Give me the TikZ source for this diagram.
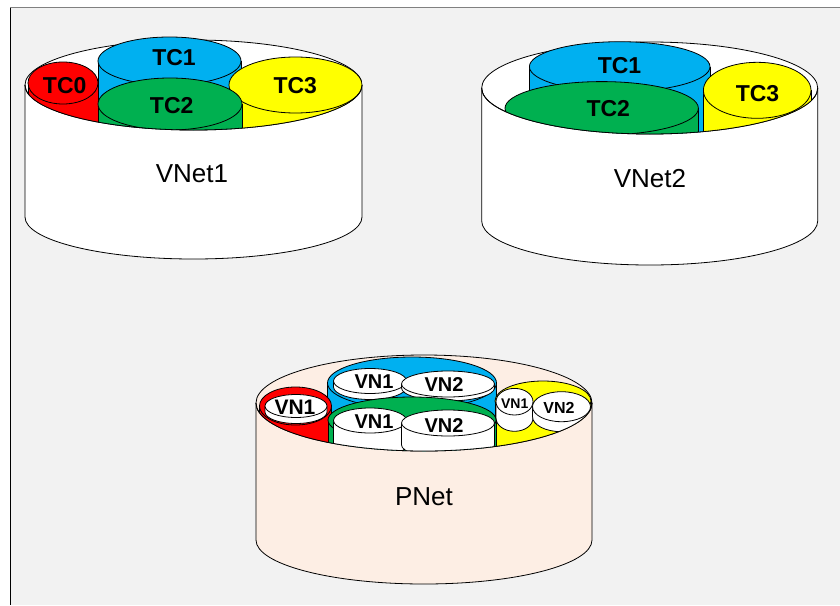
\documentclass[tikz,border=0pt]{standalone}
\usepackage{fontspec}
\setmainfont{Liberation Sans}
\definecolor{bgc}{HTML}{F2F2F2}
\definecolor{tcred}{HTML}{FF0000}
\definecolor{tcblue}{HTML}{00B0F0}
\definecolor{tcgreen}{HTML}{00B050}
\definecolor{tcyellow}{HTML}{FFFF00}
\definecolor{peach}{HTML}{FDEEE4}
% outer cylinder: cx, top cy, rx, top ry, bottom cy, bottom ry, fill
\newcommand\outercyl[7]{%
  \fill[#7] (#1-#3,-#2) -- (#1-#3,-#5) arc[start angle=180,end angle=360,x radius=#3,y radius=#6] -- (#1+#3,-#2) -- cycle;
  \draw[outl] (#1-#3,-#2) -- (#1-#3,-#5) arc[start angle=180,end angle=360,x radius=#3,y radius=#6] -- (#1+#3,-#2);
  \filldraw[outl,fill=#7] (#1,-#2) ellipse[x radius=#3,y radius=#4];
}
% clip to region above the lower arc of the outer top ellipse
\newcommand\outerclip[4]{%
  \clip (#1-#3,0) -- (#1-#3,-#2) arc[start angle=180,end angle=360,x radius=#3,y radius=#4] -- (#1+#3,0) -- cycle;
}
\newcommand\outerarc[4]{%
  \draw[outl] (#1-#3,-#2) arc[start angle=180,end angle=360,x radius=#3,y radius=#4];
}
% inner deep coloured cylinder: cx, cy, rx, ry, colour
\newcommand\colcyl[5]{%
  \fill[#5] (#1-#3,-#2) rectangle (#1+#3,-#2-120);
  \draw[outl] (#1-#3,-#2) -- ++(0,-120) (#1+#3,-#2) -- ++(0,-120);
  \filldraw[outl,fill=#5] (#1,-#2) ellipse[x radius=#3,y radius=#4];
}
% short white cylinder: cx, cy, rx, ry, bottom cy
\newcommand\vncyl[5]{%
  \fill[white] (#1-#3,-#2) -- (#1-#3,-#5) arc[start angle=180,end angle=360,x radius=#3,y radius=#4] -- (#1+#3,-#2) -- cycle;
  \draw[outl] (#1-#3,-#2) -- (#1-#3,-#5) arc[start angle=180,end angle=360,x radius=#3,y radius=#4] -- (#1+#3,-#2);
  \filldraw[outl,fill=white] (#1,-#2) ellipse[x radius=#3,y radius=#4];
}
\tikzset{
  outl/.style={draw=black,line width=0.8pt},
  tclab/.style={anchor=base,inner sep=0pt,font=\bfseries\fontsize{23}{23}\selectfont},
  netlab/.style={anchor=base,inner sep=0pt,font=\fontsize{26}{26}\selectfont},
  vnlab/.style={anchor=base,inner sep=0pt,font=\bfseries\fontsize{20}{20}\selectfont},
}
\begin{document}
\begin{tikzpicture}[x=1pt,y=1pt]
\useasboundingbox (0,0) rectangle (840,-605);
\fill[white] (0,0) rectangle (840,-605);
\fill[bgc] (10,-7.5) rectangle (840,-605);
\draw[gray,line width=1.5pt] (10,-7.5) -- (840,-7.5);
\draw[black,line width=0.8pt] (10,-7.5) -- (10,-605);

% ---------- VNet1 ----------
\outercyl{193.5}{85}{168.5}{45}{217}{42}{white}
\begin{scope}
  \outerclip{193.5}{85}{168.5}{45}
  \colcyl{169.5}{61}{71.5}{24}{tcblue}
  \colcyl{63}{83}{35}{21}{tcred}
  \colcyl{295.5}{85}{66.5}{28}{tcyellow}
  \colcyl{170}{104}{72}{26}{tcgreen}
\end{scope}
\outerarc{193.5}{85}{168.5}{45}
\node[tclab] (tc0a) at (64.7,-93.3) {TC0};
\node[tclab] (tc1a) at (174,-65) {TC1};
\node[tclab] (tc2a) at (171.7,-113.3) {TC2};
\node[tclab] (tc3a) at (295.3,-93.3) {TC3};
\node[netlab] (vnet1) at (192,-182) {VNet1};

% ---------- VNet2 ----------
\outercyl{649.7}{88}{168}{46}{221}{44}{white}
\begin{scope}
  \outerclip{649.7}{88}{168}{46}
  \colcyl{619.7}{66.7}{90.3}{25}{tcblue}
  \colcyl{757.2}{90.3}{53.8}{28}{tcyellow}
  \colcyl{601.7}{108.3}{96.7}{26.7}{tcgreen}
\end{scope}
\outerarc{649.7}{88}{168}{46}
\node[tclab] (tc1b) at (619.5,-73.3) {TC1};
\node[tclab] (tc2b) at (608.3,-116.7) {TC2};
\node[tclab] (tc3b) at (757.5,-101.7) {TC3};
\node[netlab] (vnet2) at (650,-187) {VNet2};

% ---------- PNet ----------
\outercyl{424}{403}{168}{48}{540}{44}{peach}
\begin{scope}
  \outerclip{424}{403}{168}{48}
  \colcyl{412}{383}{84.5}{26}{tcblue}
  \vncyl{370}{381}{36.5}{12.5}{387}
  \vncyl{448}{384}{46.5}{13}{388}
  \colcyl{295.5}{406}{36}{19}{tcred}
  \vncyl{296}{406}{31}{11.5}{412}
  \colcyl{543}{401}{48}{20}{tcyellow}
  \vncyl{514.5}{401.7}{18.5}{13.3}{418}
  \vncyl{561.5}{406.7}{29}{15}{416.7}
  \colcyl{412}{420}{84}{23}{tcgreen}
  \vncyl{370}{420.5}{36.5}{12.5}{445}
  \vncyl{448}{423}{46.5}{13}{445}
\end{scope}
\outerarc{424}{403}{168}{48}
\node[vnlab,font=\bfseries\fontsize{21}{21}\selectfont] (vnr) at (295,-414.3) {VN1};
\node[vnlab] (vnb1) at (374,-388.3) {VN1};
\node[vnlab] (vnb2) at (444,-391.7) {VN2};
\node[vnlab] (vng1) at (374,-428.3) {VN1};
\node[vnlab] (vng2) at (444,-432) {VN2};
\node[vnlab,font=\bfseries\fontsize{14}{14}\selectfont] (vny1) at (514.7,-408.3) {VN1};
\node[vnlab,font=\bfseries\fontsize{16}{16}\selectfont] (vny2) at (559,-413.3) {VN2};
\node[netlab] (pnet) at (424,-505.7) {PNet};
\end{tikzpicture}
\end{document}
